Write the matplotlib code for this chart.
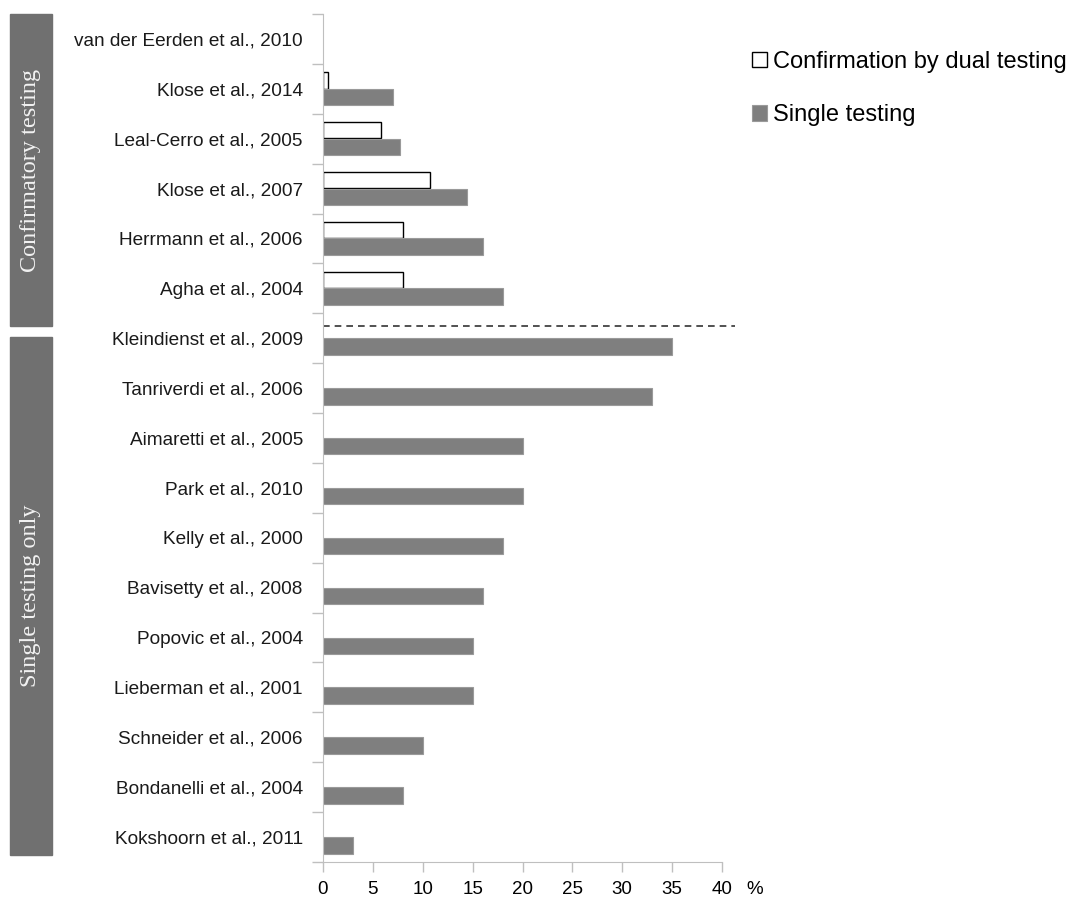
import numpy as np
import matplotlib
matplotlib.use("Agg")
import matplotlib.pyplot as plt
from matplotlib.patches import Rectangle

# studies, top to bottom
studies = ["van der Eerden et al., 2010", "Klose et al., 2014", "Leal-Cerro et al., 2005",
           "Klose et al., 2007", "Herrmann et al., 2006", "Agha et al., 2004",
           "Kleindienst et al., 2009", "Tanriverdi et al., 2006", "Aimaretti et al., 2005",
           "Park et al., 2010", "Kelly et al., 2000", "Bavisetty et al., 2008",
           "Popovic et al., 2004", "Lieberman et al., 2001", "Schneider et al., 2006",
           "Bondanelli et al., 2004", "Kokshoorn et al., 2011"]
# % with deficiency
dual = [0, 0.5, 5.8, 10.7, 8, 8, 0, 0, 0, 0, 0, 0, 0, 0, 0, 0, 0]
single = [0, 7, 7.7, 14.4, 16, 18, 35, 33, 20, 20, 18, 16, 15, 15, 10, 8, 3]
groups = ["Confirmatory testing", "Single testing only"]
xticks = [0, 5, 10, 15, 20, 25, 30, 35, 40]

W, H = 1069, 899
fig = plt.figure(figsize=(W / 100, H / 100), dpi=100)
ax = fig.add_axes([323 / W, 1 - 862 / H, (722 - 323) / W, (862 - 14) / H])

y = np.arange(len(studies))
h = 0.33
# skip empty bars so no stray edges appear at zero
d_idx = [i for i, v in enumerate(dual) if v > 0]
s_idx = [i for i, v in enumerate(single) if v > 0]
ax.barh(y[d_idx] - 0.17, [dual[i] for i in d_idx], height=h, color="white",
        edgecolor="black", linewidth=1, label="Confirmation by dual testing")
ax.barh(y[s_idx] + 0.165, [single[i] for i in s_idx], height=h, color="#7f7f7f",
        edgecolor="#9a9a9a", linewidth=0.8, label="Single testing")

ax.set_xlim(0, 40)
ax.set_ylim(len(studies) - 0.5, -0.5)
ax.set_xticks(xticks)
ax.set_xticklabels([str(t) for t in xticks], fontsize=13.5, family="Liberation Sans")
ax.set_yticks(y)
ax.set_yticklabels(studies, fontsize=13.7, family="Liberation Sans", color="#1a1a1a")
ax.tick_params(axis="y", which="major", length=0, pad=14.5)
ax.set_yticks(np.arange(len(studies) + 1) - 0.5, minor=True)
ax.tick_params(axis="y", which="minor", length=8, color="#bfbfbf", width=1)
ax.tick_params(axis="x", length=7, color="#bfbfbf", width=1, pad=7)

for s in ["top", "right"]:
    ax.spines[s].set_visible(False)
for s in ["left", "bottom"]:
    ax.spines[s].set_color("#bfbfbf")

ax.text(1.083, -0.032, "%", transform=ax.transAxes, fontsize=13.5,
        family="Liberation Sans", va="center", ha="center")

# separator between the two groups
ax.axhline(5.76, xmin=0, xmax=1.033, clip_on=False, ls="--", color="#333333",
           lw=1.2, dashes=(4, 3))

# group boxes on the left
boxes = [(14, 326), (337, 855)]
for (top, bot), name in zip(boxes, groups):
    fig.patches.append(Rectangle((10 / W, 1 - bot / H), 42 / W, (bot - top) / H,
                                 transform=fig.transFigure, color="#707070"))
    fig.text(31 / W, 1 - (top + bot) / 2 / H, name, rotation=90, ha="center",
             va="center", color="#f2f2f2", fontsize=17.5, family="Liberation Serif")

ax.legend(loc="upper left", bbox_to_anchor=(752 / W, 1 - 51 / H),
          bbox_transform=fig.transFigure, frameon=False, borderpad=0,
          borderaxespad=0, handlelength=0.62, handleheight=0.62, handletextpad=0.25,
          labelspacing=1.32, prop={"family": "Liberation Sans", "size": 17})

fig.savefig("out.png", dpi=100)
